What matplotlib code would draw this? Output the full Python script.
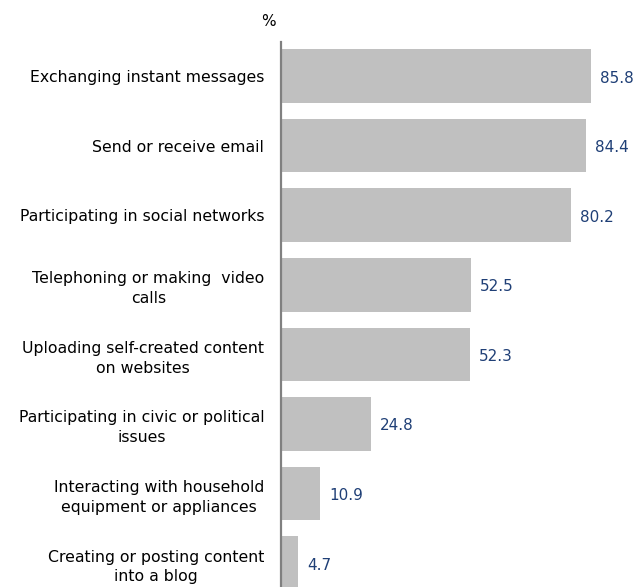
import numpy as np
import matplotlib.pyplot as plt

# share of internet users doing each activity, %
activities = [
    "Exchanging instant messages",
    "Send or receive email",
    "Participating in social networks",
    "Telephoning or making  video\ncalls",
    "Uploading self-created content\non websites",
    "Participating in civic or political\nissues",
    "Interacting with household\nequipment or appliances",
    "Creating or posting content\ninto a blog",
]
shares = [85.8, 84.4, 80.2, 52.5, 52.3, 24.8, 10.9, 4.7]

plt.rcParams['font.family'] = ['DejaVu Sans']

fig = plt.figure(figsize=(6.37, 5.87), dpi=100)
ax = fig.add_axes([281 / 637, 0.0, 1 - 281 / 637, 1 - 42 / 587])

ypos = np.arange(len(activities))
ax.barh(ypos, shares, height=0.77, color='#c0c0c0')

for y, v in zip(ypos, shares):
    ax.annotate(f"{v:.1f}", (v, y), xytext=(9, -2), textcoords='offset pixels',
                ha='left', va='center', fontsize=11, color='#1f3f76')

ax.set_xlim(0, 98.5)
ax.set_ylim(7.345, -0.49)
ax.set_yticks(ypos)
ax.set_yticklabels(activities, fontsize=11.3, multialignment='center',
                   linespacing=1.4)
ax.tick_params(axis='y', length=0, pad=12)
ax.set_xticks([])
for s in ['top', 'right', 'bottom']:
    ax.spines[s].set_visible(False)
ax.spines['left'].set_color('#808080')
ax.spines['left'].set_linewidth(1.6)

fig.text(276 / 637, 1 - 22 / 587, "%", ha='right', va='center', fontsize=11)

fig.savefig('out.png', dpi=100)
